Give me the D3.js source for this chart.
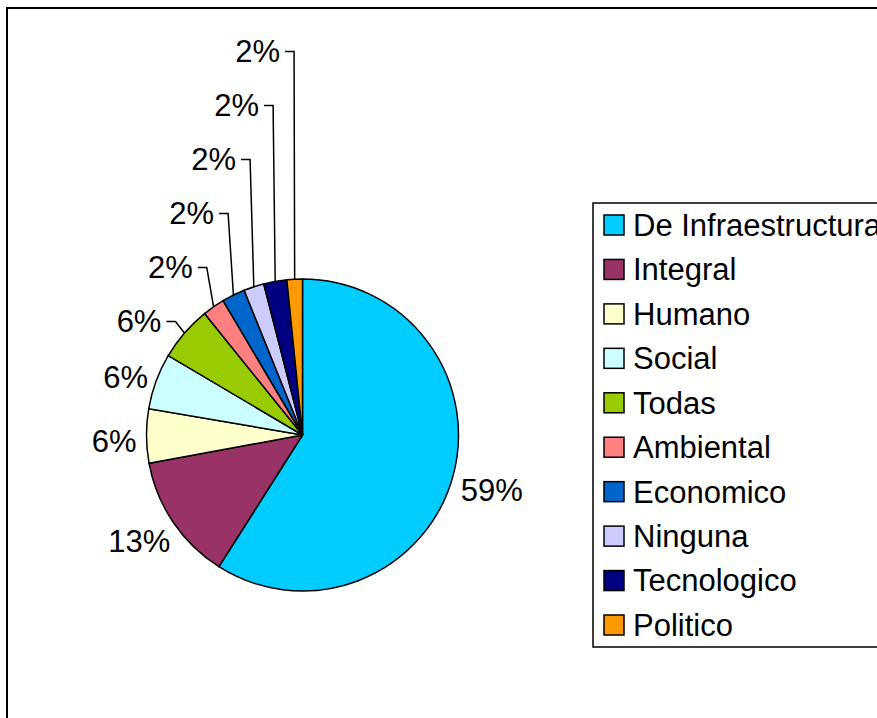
<!DOCTYPE html>
<html lang="es">
<head>
    <meta charset="UTF-8">
    <title>Tipo de desarrollo</title>
    <script src="https://d3js.org/d3.v7.min.js"></script>
    <style>
        body { margin: 0; background: #fff; }
        text { font-family: "Liberation Sans", Arial, sans-serif; font-size: 31px; fill: #000; }
        .slice { stroke: #000; stroke-width: 1.5px; }
        .leader { fill: none; stroke: #000; stroke-width: 1.5px; }
    </style>
</head>
<body>
    <div id="chart"></div>

    <script>
        // Data (percent of answers)
        const categories = ["De Infraestructura", "Integral", "Humano", "Social", "Todas",
                            "Ambiental", "Economico", "Ninguna", "Tecnologico", "Politico"];
        const shares = [59.0, 13.1, 5.6, 5.8, 5.7, 2.3, 2.4, 2.1, 2.4, 1.6];
        const colors = ["#00CCFF", "#993366", "#FFFFCC", "#CCFFFF", "#99CC00",
                        "#FF8080", "#0066CC", "#CCCCFF", "#000080", "#FF9900"];

        const width = 877, height = 718;
        const cx = 302.5, cy = 435, r = 156;

        const svg = d3.select("#chart").append("svg")
            .attr("width", width)
            .attr("height", height);

        // outer frame (runs off the right and bottom edges)
        svg.append("rect")
            .attr("x", 7).attr("y", 8)
            .attr("width", 1000).attr("height", 1000)
            .attr("fill", "none")
            .attr("stroke", "#000")
            .attr("stroke-width", 2);

        // pie, clockwise from 12 o'clock, no sorting
        const pie = d3.pie().sort(null).value(d => d);
        const arcs = pie(shares);
        const arc = d3.arc().innerRadius(0).outerRadius(r);

        const g = svg.append("g").attr("transform", "translate(" + cx + "," + cy + ")");
        g.selectAll(".slice")
            .data(arcs)
            .enter().append("path")
            .attr("class", "slice")
            .attr("d", arc)
            .attr("fill", (d, i) => colors[i]);

        // labels: natural position just outside the slice
        const labels = svg.append("g");
        const info = arcs.map(function(a, i) {
            const m = (a.startAngle + a.endAngle) / 2;
            const dx = Math.sin(m), dy = -Math.cos(m);
            const ax = cx + r * dx, ay = cy + r * dy;
            const t = labels.append("text")
                .attr("text-anchor", "middle")
                .attr("dy", "0.35em")
                .text(Math.round(a.value) + "%");
            const w = t.node().getComputedTextLength();
            const gap = 10, h = 30;
            return {
                t: t, w: w, dx: dx, dy: dy, ax: ax, ay: ay,
                x: ax + dx * (gap + w / 2),
                y: ay + dy * (gap + h / 2) + 5,
                moved: false
            };
        });

        // stack crowded labels on the left side going up
        const spacing = 54;
        for (let i = 2; i < info.length; i++) {
            const prev = info[i - 1];
            if (info[i].dx < 0 && info[i].y > prev.y - spacing) {
                info[i].y = prev.y - spacing;
                info[i].moved = true;
            }
        }

        info.forEach(function(d, i) {
            const next = info[i + 1];
            const leader = d.moved || (next && next.moved);
            if (leader) {
                const bend = d.ax - 12 * Math.abs(d.dx);
                d.x = bend - 14 - d.w / 2;
                labels.append("path")
                    .attr("class", "leader")
                    .attr("d", "M" + (bend - 9) + "," + d.y + "H" + bend + "L" + d.ax + "," + d.ay);
            }
            d.t.attr("x", d.x).attr("y", d.y);
        });

        // legend (box runs off the right edge)
        const lg = svg.append("g").attr("transform", "translate(593,203)");
        lg.append("rect")
            .attr("width", 400).attr("height", 444)
            .attr("fill", "#fff")
            .attr("stroke", "#000")
            .attr("stroke-width", 1.5);

        const rowY = d3.scalePoint().domain(categories).range([22, 422]);
        const item = lg.selectAll(".item")
            .data(categories)
            .enter().append("g")
            .attr("class", "item")
            .attr("transform", d => "translate(0," + rowY(d) + ")");
        item.append("rect")
            .attr("x", 11).attr("y", -10)
            .attr("width", 20).attr("height", 20)
            .attr("fill", (d, i) => colors[i])
            .attr("stroke", "#000")
            .attr("stroke-width", 1.5);
        item.append("text")
            .attr("x", 40)
            .attr("dy", "0.35em")
            .text(d => d);
    </script>
</body>
</html>
